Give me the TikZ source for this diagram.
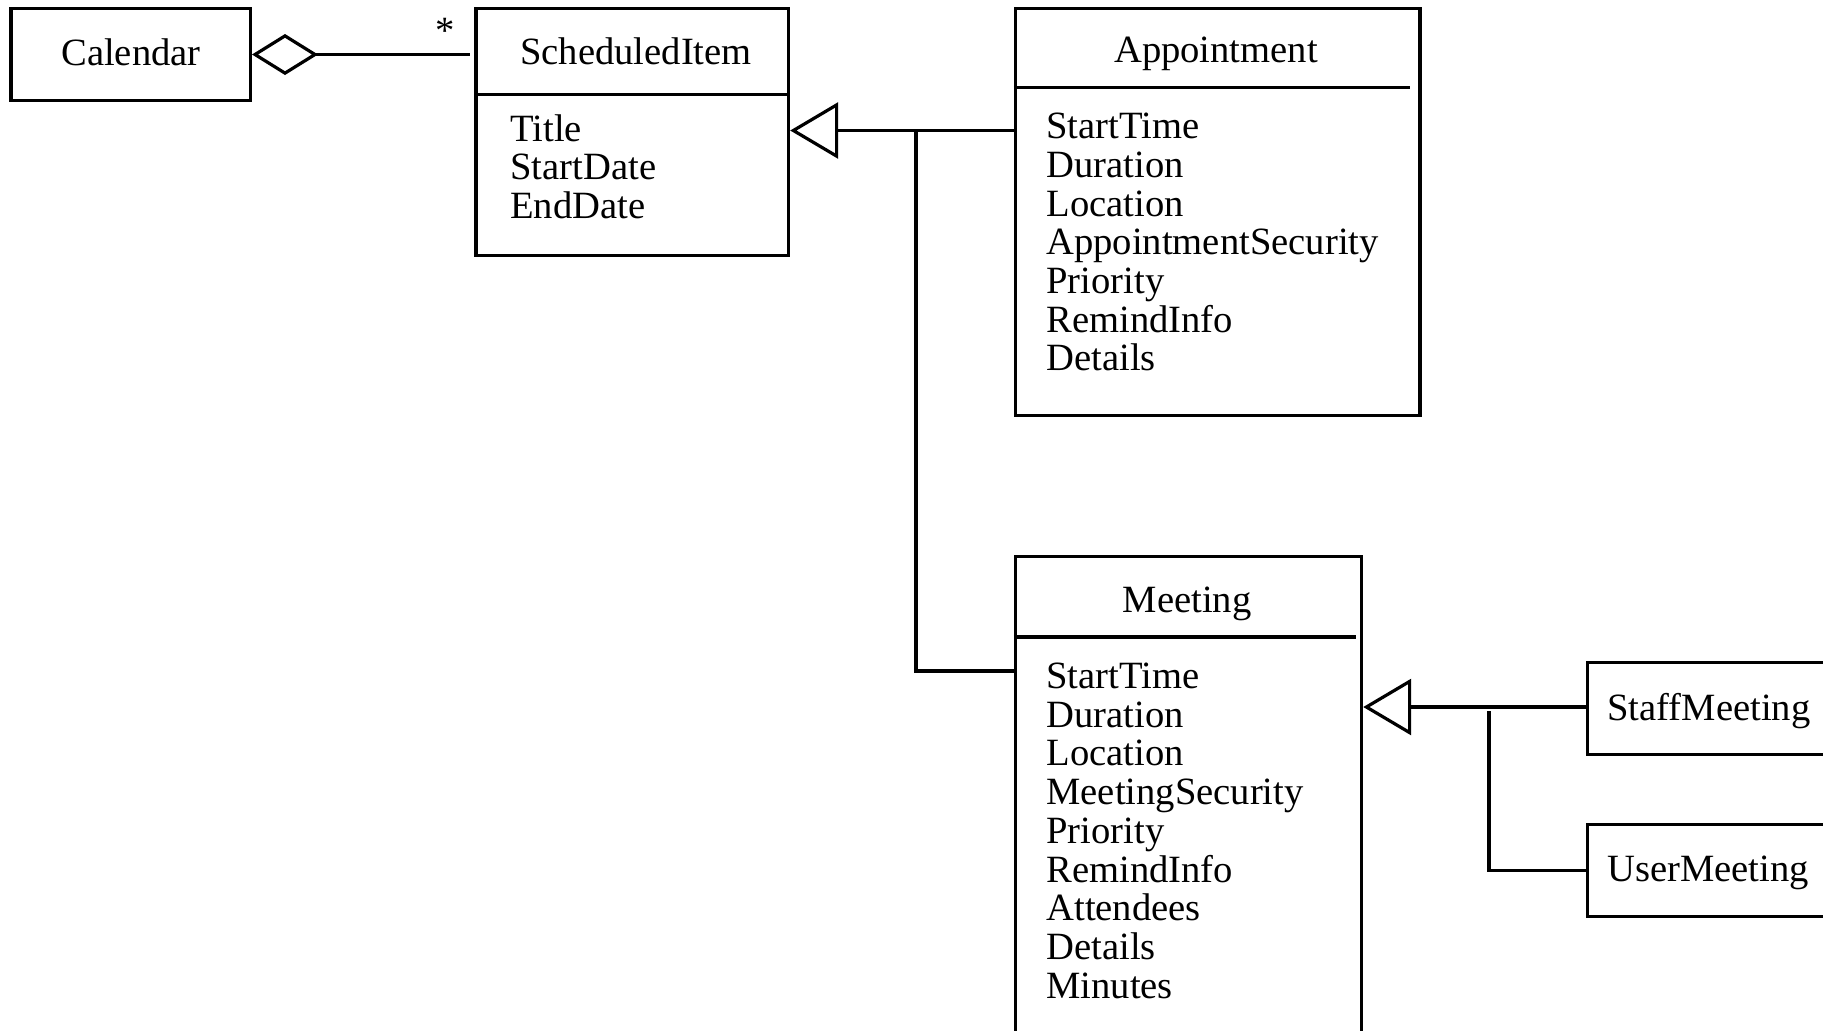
\documentclass[tikz,border=0pt]{standalone}
\usepackage{fontspec}
\setmainfont{Liberation Serif}
\usetikzlibrary{arrows.meta}
% attribute list: first row sits on the node's base line
\newcommand\attrlist[1]{\begin{tabular}[t]{@{}l@{}}#1\end{tabular}}

\begin{document}
\begin{tikzpicture}[x=0.5pt,y=-0.5pt,
  every node/.style={font=\fontsize{19.3}{19.35}\selectfont},
  umlbox/.style={draw, line width=1.6pt, rectangle, inner sep=0pt, anchor=north west},
  rule/.style={line width=1.6pt},
  label/.style={anchor=base, inner sep=0pt},
  attrs/.style={anchor=base west, inner sep=0pt},
  link/.style={line width=1.6pt},
  aggr/.style={line width=1.6pt, {Diamond[open,length=33pt,width=20.5pt]}-},
  inherit/.style={line width=1.6pt, -{Triangle[open,length=24pt,width=28pt]}}]

\clip (0,0) rectangle (1823,1030);

% class boxes
\node[umlbox, minimum width=0.5*239.5pt, minimum height=0.5*91.8pt] (cal) at (9.3,7) {};
\node[umlbox, minimum width=0.5*312.7pt, minimum height=0.5*246.5pt] (sched) at (474.3,7) {};
\node[umlbox, minimum width=0.5*404.6pt, minimum height=0.5*407pt] (apt) at (1013.8,7) {};
\node[umlbox, minimum width=0.5*346.2pt, minimum height=0.5*500pt] (mtg) at (1013.8,554.6) {};
\node[umlbox, minimum width=0.5*260pt, minimum height=0.5*92pt] (staff) at (1586,661) {};
\node[umlbox, minimum width=0.5*260pt, minimum height=0.5*92pt] (user) at (1586,823) {};

% compartment dividers
\draw[rule] (sched.west |- 0,94.2) -- (sched.east |- 0,94.2);
\draw[rule] (apt.west |- 0,87.2) -- (1410,87.2);
\draw[rule] (mtg.west |- 0,637) -- (1355.6,637);

% class names
\node[label] (calname) at (131,65) {Calendar};
\node[label] (schedname) at (636,64) {ScheduledItem};
\node[label] (aptname) at (1216,62) {Appointment};
\node[label] (mtgname) at (1187,612) {Meeting};
\node[anchor=base west, inner sep=0pt] (staffname) at (1607,720) {StaffMeeting};
\node[anchor=base west, inner sep=0pt] (username) at (1607,881) {UserMeeting};

% attributes
\node[attrs] (schedattr) at (510,141) {\attrlist{Title\\StartDate\\EndDate}};
\node[attrs] (aptattr) at (1046,138.6) {\attrlist{StartTime\\Duration\\Location\\AppointmentSecurity\\Priority\\RemindInfo\\Details}};
\node[attrs] (mtgattr) at (1046,688.5) {\attrlist{StartTime\\Duration\\Location\\MeetingSecurity\\Priority\\RemindInfo\\Attendees\\Details\\Minutes}};

% aggregation Calendar <>-- * ScheduledItem
\draw[aggr, shorten >=2pt] (cal.east) -- (cal.east -| sched.west);
\node[anchor=base, inner sep=0pt] (mult) at (445,43.5) {*};

% generalization to ScheduledItem
\coordinate (j1) at (916,130.5);
\coordinate (j2) at (916,671);
\draw[inherit] (apt.west |- j1) -- (sched.east |- j1);
\draw[link] (j1) -- (j2) -- (mtg.west |- j2);

% generalization to Meeting
\coordinate (k1) at (1489,707);
\draw[inherit] (staff.west |- k1) -- (mtg.east |- k1);
\draw[link] (1489,711) |- (user.west);

\end{tikzpicture}
\end{document}
